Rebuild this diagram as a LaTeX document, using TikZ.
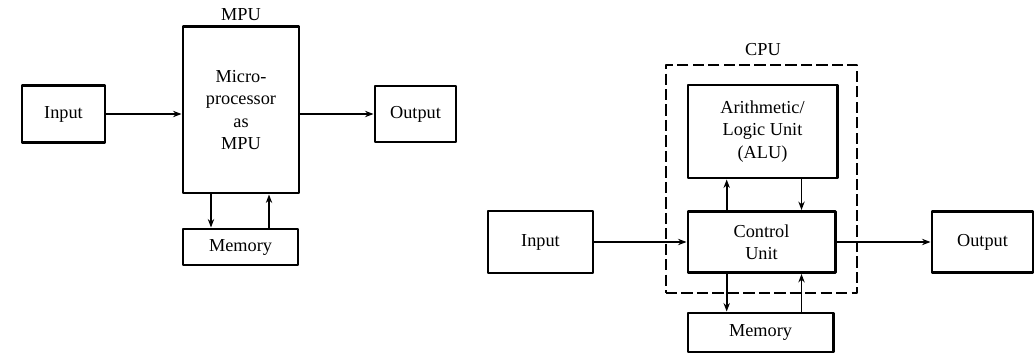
\documentclass[tikz,border=0pt]{standalone}
\usepackage{fontspec}
\setmainfont{Liberation Serif}
\usepackage{tikz}
\usetikzlibrary{arrows.meta}
\tikzset{
  every picture/.style={font=\fontsize{13}{16}\selectfont, line join=round, >={Stealth[length=6pt,width=4.5pt]}},
  box/.style={draw, line width=2.1pt, inner sep=0pt, align=center},
  cpubox/.style={draw, dashed, dash pattern=on 8pt off 3pt, line width=1.3pt, inner sep=0pt},
  flow/.style={->, line width=1.2pt},
}
\begin{document}
\begin{tikzpicture}[x=0.025cm,y=-0.025cm]
\useasboundingbox (0,0) rectangle (1034,354);
% microprocessor system
\node[box,minimum width=2.075cm,minimum height=1.425cm](inL) at (63.5,114){Input};
\node[box,minimum width=2.9cm,minimum height=4.15cm](mpu) at (241,110){Micro-\\processor\\as\\MPU};
\node(mpulbl) at (241,15){MPU};
\node[box,minimum width=2.025cm,minimum height=1.4cm](outL) at (415.5,114){Output};
\node[box,minimum width=2.875cm,minimum height=0.9cm](memL) at (240.5,247){Memory};
\draw[flow](inL)--(inL-|mpu.west);
\draw[flow](mpu.east|-outL)--(outL);
\coordinate(dL) at ([xshift=-0.75cm]mpu.south);
\coordinate(uL) at ([xshift=0.7cm]mpu.south);
\draw[flow](dL)--(dL|-memL.north);
\draw[flow](uL|-memL.north)--(uL);
% computer with CPU
\node[cpubox,minimum width=4.775cm,minimum height=5.7cm](cpu) at (761.5,179){};
\node(cpulbl) at (763,50){CPU};
\node[box,minimum width=3.725cm,minimum height=2.325cm](alu) at (762.5,131.5){Arithmetic/\\Logic Unit\\(ALU)};
\node[box,minimum width=3.675cm,minimum height=1.525cm](ctrl) at (761.5,242){Control\\Unit};
\node[box,minimum width=2.625cm,minimum height=1.55cm](inR) at (540.5,242){Input};
\node[box,minimum width=2.525cm,minimum height=1.525cm](outR) at (982.5,242){Output};
\node[box,minimum width=3.625cm,minimum height=0.975cm](memR) at (760.5,332.5){Memory};
\draw[flow](inR)--(ctrl);
\draw[flow](ctrl)--(outR);
\coordinate(aU) at ([xshift=-0.87cm]ctrl.north);
\coordinate(aD) at ([xshift=1cm]ctrl.north);
\draw[flow](aU)--(aU|-alu.south);
\draw[flow](aD|-alu.south)--(aD);
\coordinate(mD) at ([xshift=-0.87cm]ctrl.south);
\coordinate(mU) at ([xshift=1cm]ctrl.south);
\draw[flow](mD)--(mD|-memR.north);
\draw[flow](mU|-memR.north)--(mU);
\end{tikzpicture}
\end{document}
